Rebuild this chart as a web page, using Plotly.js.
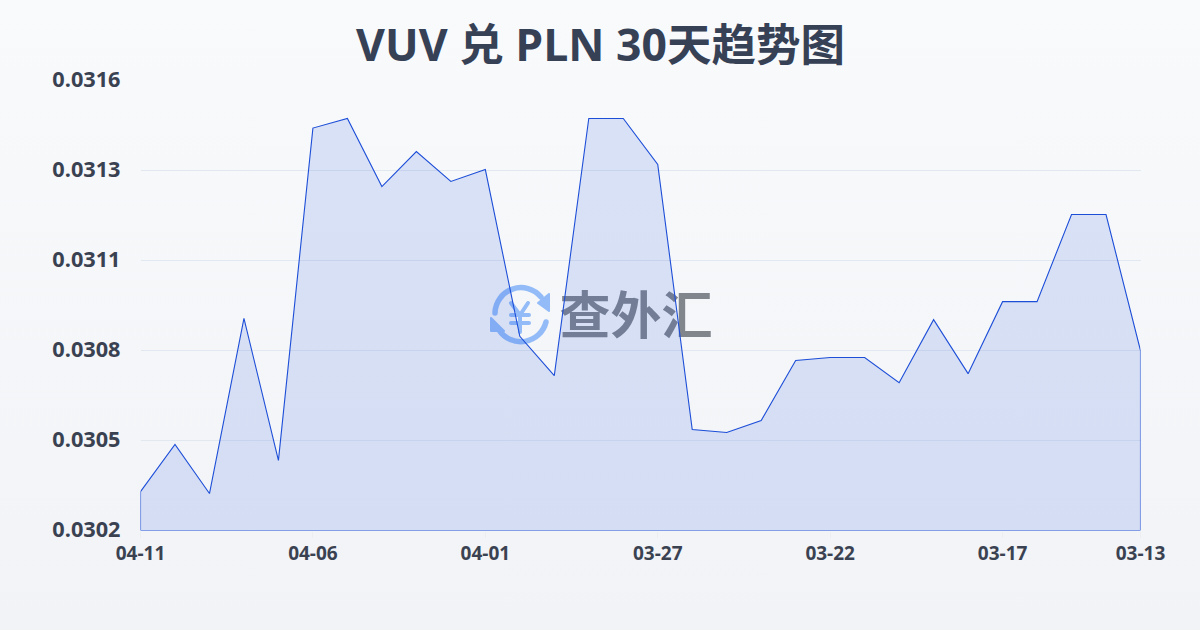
<!DOCTYPE html>
<html>
<head>
<meta charset="utf-8">
<script src="https://cdn.plot.ly/plotly-3.0.1.min.js"></script>
<style>
html,body{margin:0;padding:0;width:1200px;height:630px;overflow:hidden;background:linear-gradient(180deg,#f8fafc 0%,#f1f3f6 100%);}
#mark{position:absolute;left:0;top:0;z-index:0;}
#chart{position:absolute;left:0;top:0;width:1200px;height:630px;z-index:1;transform:translate(0.5px,0.5px);}
</style>
</head>
<body>
<svg id="mark" width="1200" height="630" xmlns="http://www.w3.org/2000/svg">
  <g fill="none" stroke="#93bbf8" stroke-width="5.5" stroke-linecap="round">
    <path d="M 495 313 A 26 26 0 0 1 541 297"/>
    <path d="M 546 322 A 26 26 0 0 1 499 330"/>
    <path d="M 511 303 L 520 315 L 528 303 M 520 315 L 520 332 M 511 315 L 529 315 M 511 323 L 529 323" stroke-width="4"/>
  </g>
  <path d="M 549 294 L 549 311 L 538 303 Z M 491 318 L 491 331 L 504 331 Z" fill="#93bbf8" stroke="#93bbf8" stroke-width="2" stroke-linejoin="round"/>
  <text x="636" y="334" text-anchor="middle" font-family="Noto Sans CJK SC" font-weight="700" font-size="51" fill="#81858c">查外汇</text>
</svg>
<div id="chart"></div>
<script>
var chartTitle = 'VUV 兑 PLN 30天趋势图';
var dates = ['04-11','04-10','04-09','04-08','04-07','04-06','04-05','04-04','04-03','04-02','04-01','03-31','03-30','03-29','03-28','03-27','03-26','03-25','03-24','03-23','03-22','03-21','03-20','03-19','03-18','03-17','03-16','03-15','03-14','03-13'];
var rates = [0.030321,0.030468,0.030315,0.030860,0.030418,0.031452,0.031482,0.031270,0.031379,0.031286,0.031323,0.030804,0.030682,0.031482,0.031482,0.031339,0.030514,0.030505,0.030542,0.030729,0.030738,0.030738,0.030660,0.030856,0.030688,0.030912,0.030912,0.031183,0.031183,0.030760];
var yTickValues = [0.0302,0.03048,0.03076,0.03104,0.03132,0.0316];
var yTickLabels = ['0.0302','0.0305','0.0308','0.0311','0.0313','0.0316'];
var xTickLabels = ['04-11','04-06','04-01','03-27','03-22','03-17','03-13'];

var yBase = yTickValues[0];
var idx = dates.map(function(_, i){ return i; });
var last = idx.length - 1;
var xTickValues = xTickLabels.map(function(d){ return dates.indexOf(d); });
var fontFamily = '"Open Sans","Noto Sans CJK SC",sans-serif';

var trace = {
  type: 'scatter',
  mode: 'lines',
  x: idx.concat([last, 0, 0]),
  y: rates.concat([yBase, yBase, rates[0]]),
  fill: 'toself',
  fillcolor: 'rgba(29,78,216,0.137)',
  line: {color: '#1d4ed8', width: 1.1, shape: 'linear'},
  cliponaxis: false,
  hoverinfo: 'skip',
  showlegend: false
};

var layout = {
  width: 1200, height: 630,
  paper_bgcolor: 'rgba(0,0,0,0)',
  plot_bgcolor: 'rgba(0,0,0,0)',
  margin: {l: 140, r: 60, t: 80, b: 100, pad: 0},
  title: {text: chartTitle, font: {family: fontFamily, size: 44.5, color: '#364156', weight: 700}, x: 0.5, xanchor: 'center', y: 0.928, yanchor: 'middle'},
  font: {family: fontFamily},
  xaxis: {
    type: 'linear', range: [0, last], tickmode: 'array', tickvals: xTickValues, ticktext: xTickLabels,
    showgrid: false, zeroline: false, showline: false,
    ticks: 'outside', ticklen: 6, tickwidth: 1, tickcolor: '#eceef0',
    tickfont: {family: fontFamily, size: 19, color: '#3a4252', weight: 700}
  },
  yaxis: {
    type: 'linear', range: [yBase, yTickValues[5]], tickmode: 'array', tickvals: yTickValues, ticktext: yTickLabels,
    showgrid: true, gridcolor: '#e2e8f0', gridwidth: 1, zeroline: false, showline: false, ticks: '',
    ticklabelstandoff: 19, ticklabelshift: -1,
    tickfont: {family: fontFamily, size: 21.7, color: '#3a4252', weight: 700}
  }
};
Plotly.newPlot('chart', [trace], layout, {displayModeBar: false, staticPlot: true});
</script>
</body>
</html>
